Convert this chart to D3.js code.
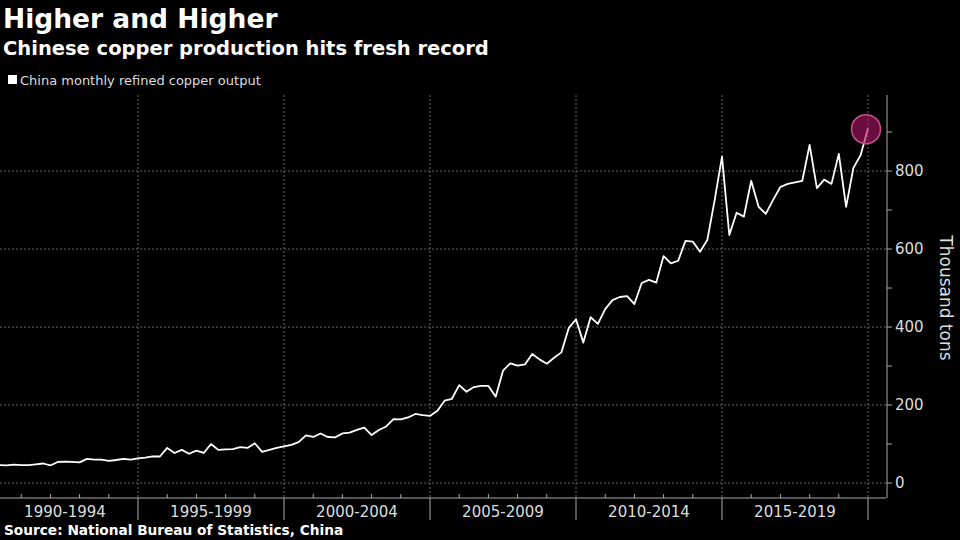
<!DOCTYPE html>
<html><head><meta charset="utf-8">
<script src="https://cdn.jsdelivr.net/npm/d3@7"></script>
<style>body{margin:0;background:#000}svg{display:block}</style>
</head><body><svg id="c" width="960" height="540"></svg>
<script>
const startYear = 1990;
const values = [46,45,47,46,46,48,50,45,54,55,54,53,62,60,60,57,59,62,60,63,
65,68,68,90,77,85,75,83,77,100,85,86,87,92,90,102,80,85,90,94,
98,105,122,118,127,118,117,127,129,136,142,123,136,145,164,163,168,177,174,172,
185,211,216,251,234,246,249,249,221,288,307,301,304,331,317,306,321,335,397,420,
360,425,408,446,469,477,479,459,513,521,514,582,563,570,621,619,593,624,726,837,
636,693,683,775,709,690,726,759,767,771,775,867,756,778,767,844,708,808,841,910];
const periodLabels = ["1990-1994","1995-1999","2000-2004","2005-2009","2010-2014","2015-2019"];
const yTicks = [0,200,400,600,800];

const svg = d3.select("#c");
const F = "'DejaVu Sans', sans-serif";
const x = d3.scaleLinear().domain([1990, 2020]).range([-8, 868]);
const y = d3.scaleLinear().domain([0, 995]).range([483, 95]);
const data = values.map((v,i)=>({t: startYear + (i+1)/4, v}));

svg.append("rect").attr("width",960).attr("height",540).attr("fill","#000");

const bounds = d3.range(1995, 2021, 5);
svg.append("g").selectAll("line").data(bounds).join("line")
  .attr("x1",d=>x(d)).attr("x2",d=>x(d)).attr("y1",95).attr("y2",498)
  .attr("stroke","#666").attr("stroke-dasharray","2,2").attr("stroke-width",1);
svg.append("g").selectAll("line").data(yTicks).join("line")
  .attr("x1",0).attr("x2",886).attr("y1",d=>y(d)).attr("y2",d=>y(d))
  .attr("stroke","#666").attr("stroke-dasharray","2,2").attr("stroke-width",1);

const xg = svg.append("g");
xg.append("line").attr("x1",0).attr("x2",886).attr("y1",498).attr("y2",498).attr("stroke","#aaa");
xg.selectAll(".maj").data(bounds).join("line")
  .attr("x1",d=>x(d)).attr("x2",d=>x(d)).attr("y1",498).attr("y2",520).attr("stroke","#aaa");
xg.selectAll(".min").data(d3.range(1991,2020).filter(d=>d%5)).join("line")
  .attr("x1",d=>x(d)).attr("x2",d=>x(d)).attr("y1",494).attr("y2",498).attr("stroke","#aaa");
xg.selectAll("text").data(periodLabels).join("text")
  .attr("x",(d,i)=>x(1992.5+5*i)).attr("y",517).attr("text-anchor","middle")
  .attr("fill","#ddd").attr("font-family",F).attr("font-size",15).text(d=>d);

const yg = svg.append("g");
yg.append("line").attr("x1",887).attr("x2",887).attr("y1",95).attr("y2",498).attr("stroke","#aaa");
yg.selectAll("line.t").data(d3.range(0,1000,100)).join("line").attr("class","t")
  .attr("x1",887).attr("x2",892).attr("y1",d=>y(d)).attr("y2",d=>y(d)).attr("stroke","#aaa");
yg.selectAll("text").data(yTicks).join("text")
  .attr("x",895).attr("y",d=>y(d)+5).attr("fill","#ddd").attr("font-family",F).attr("font-size",15)
  .text(d=>d);
svg.append("text").attr("transform","translate(940,298) rotate(90)").attr("text-anchor","middle")
  .attr("fill","#ddd").attr("font-family",F).attr("font-size",17).text("Thousand tons");

svg.append("path").datum(data)
  .attr("d", d3.line().x(d=>x(d.t)).y(d=>y(d.v)))
  .attr("fill","none").attr("stroke","#fff").attr("stroke-width",1.8).attr("stroke-linejoin","round");
const last = data[data.length-1];
svg.append("circle").attr("cx",x(last.t)-2).attr("cy",y(last.v)+1).attr("r",14.5)
  .attr("fill","#b0146a").attr("fill-opacity",0.6).attr("stroke","#c8508a").attr("stroke-width",1.5);

svg.append("text").attr("x",3).attr("y",28).attr("fill","#fff").attr("font-family",F)
  .attr("font-weight","bold").attr("font-size",26.5).text("Higher and Higher");
svg.append("text").attr("x",3).attr("y",55).attr("fill","#fff").attr("font-family",F)
  .attr("font-weight","bold").attr("font-size",19.5).text("Chinese copper production hits fresh record");
svg.append("rect").attr("x",8).attr("y",75).attr("width",9).attr("height",9).attr("fill","#fff");
svg.append("text").attr("x",20).attr("y",85).attr("fill","#ddd").attr("font-family",F)
  .attr("font-size",13).text("China monthly refined copper output");
svg.append("text").attr("x",4).attr("y",535).attr("fill","#fff").attr("font-family",F)
  .attr("font-weight","bold").attr("font-size",13.7).text("Source: National Bureau of Statistics, China");
</script></body></html>
